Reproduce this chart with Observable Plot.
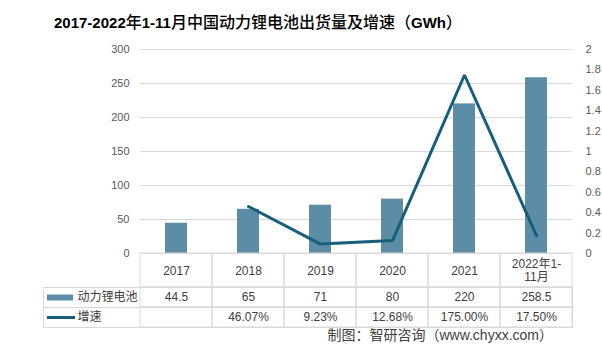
<!DOCTYPE html>
<html><head><meta charset="utf-8">
<script src="https://cdn.jsdelivr.net/npm/d3@7"></script>
<script src="https://cdn.jsdelivr.net/npm/@observablehq/plot@0.6"></script>
<style>
body{margin:0;background:#fff;}
#wrap{position:relative;width:602px;height:359px;overflow:hidden;font-family:"Liberation Sans","Noto Sans CJK SC",sans-serif;background:#fff;}
#title{position:absolute;left:0;top:9px;width:516px;text-align:center;font-size:16px;color:#000;white-space:nowrap;font-family:"Noto Sans CJK SC",sans-serif;font-weight:500;}
#title b{font-family:"Liberation Sans",sans-serif;font-weight:bold;font-size:15px;}
.layer{position:absolute;left:0;}
.layer svg{overflow:visible;}
#footer{position:absolute;right:49px;top:324px;font-size:14px;color:#404040;white-space:nowrap;}
</style></head><body>
<div id="wrap">
<div id="title"><b>2017-2022</b>年<b>1-11</b>月中国动力锂电池出货量及增速（<b>GWh</b>）</div>
<div id="main" class="layer" style="top:0"></div>
<div id="cats" class="layer" style="top:253px"></div>
<div id="rows" class="layer" style="top:287px"></div>
<div id="footer">制图：智研咨询（www.chyxx.com）</div>
</div>
<script>
// ---- data ----
const categories = ["2017", "2018", "2019", "2020", "2021", "2022年1-11月"];
const categoryLabels = ["2017", "2018", "2019", "2020", "2021", "2022年1-\n11月"];
const shipments = [44.5, 65, 71, 80, 220, 258.5];
const growth = [null, 0.4607, 0.0923, 0.1268, 1.75, 0.175];
const seriesNames = ["动力锂电池", "增速"];
const leftTicks = [0, 50, 100, 150, 200, 250, 300];
const rightTicks = [0, 0.2, 0.4, 0.6, 0.8, 1, 1.2, 1.4, 1.6, 1.8, 2];

// ---- styles ----
const barColor = "#5b8ea6";
const lineColor = "#175e7b";
const gridColor = "#d9d9d9";
const font = "'Liberation Sans','Noto Sans CJK SC',sans-serif";
const W = 602, ML = 140, MR = 30;
const leftMax = 300, rightMax = 2, k = leftMax / rightMax;

const data = categories.map((c, i) => ({cat: c, v: shipments[i], g: growth[i]}));
const rows = ["bar", "line"];

const main = Plot.plot({
  width: W, height: 260,
  marginTop: 49, marginBottom: 7, marginLeft: ML, marginRight: MR,
  style: {fontFamily: font, fontSize: "11px", color: "#595959", background: "transparent"},
  x: {type: "band", domain: categories, paddingInner: 0.69, paddingOuter: 0.345, axis: null},
  y: {domain: [0, leftMax]},
  marks: [
    Plot.ruleY(leftTicks, {stroke: gridColor, strokeWidth: 1}),
    Plot.barY(data, {x: "cat", y: "v", fill: barColor}),
    Plot.line(data.filter(d => d.g != null), {x: "cat", y: d => d.g * k, stroke: lineColor, strokeWidth: 3, strokeLinejoin: "miter", strokeLinecap: "round"}),
    Plot.axisY(leftTicks, {anchor: "left", tickSize: 0, tickPadding: 11, label: null, fill: "#595959"}),
    Plot.axisY(rightTicks.map(t => t * k), {anchor: "right", tickSize: 0, tickPadding: 13, label: null, fill: "#595959",
      tickFormat: v => String(+(v / k).toFixed(1))})
  ]
});
document.getElementById("main").append(main);

const cats = Plot.plot({
  width: W, height: 34,
  marginTop: 0, marginBottom: 0, marginLeft: ML, marginRight: MR,
  style: {fontFamily: font, fontSize: "12px", color: "#404040", background: "transparent"},
  x: {type: "band", domain: categories, padding: 0, axis: null},
  marks: [
    Plot.cell(categories, {x: d => d, fill: "none", stroke: gridColor}),
    Plot.text(categories, {x: d => d, text: (d, i) => categoryLabels[i], fill: "#404040", fontSize: 12, lineHeight: 1.1})
  ]
});
document.getElementById("cats").append(cats);

const grid = [];
for (const c of categories) for (const r of rows) grid.push({c, r});
const fmtPct = d3.format(".2%");
const frameW = W - ML - MR;

const table = Plot.plot({
  width: W, height: 40,
  marginTop: 0, marginBottom: 0, marginLeft: ML, marginRight: MR,
  style: {fontFamily: font, fontSize: "12px", color: "#404040", background: "transparent"},
  x: {type: "band", domain: categories, padding: 0, axis: null},
  y: {type: "band", domain: rows, padding: 0, axis: null},
  marks: [
    Plot.frame({stroke: gridColor, insetLeft: -97}),
    Plot.cell(grid, {x: "c", y: "r", fill: "none", stroke: gridColor}),
    Plot.ruleY(["line"], {y: d => d, dy: -10, insetLeft: -97, stroke: gridColor}),
    Plot.ruleY(["bar"], {y: d => d, insetLeft: -93, insetRight: frameW + 67, stroke: barColor, strokeWidth: 6}),
    Plot.ruleY(["line"], {y: d => d, insetLeft: -93, insetRight: frameW + 65, stroke: lineColor, strokeWidth: 3}),
    Plot.text(seriesNames, {y: (d, i) => rows[i], text: d => d, frameAnchor: "left", dx: -63, textAnchor: "start", fill: "#404040", fontSize: 12}),
    Plot.text(data, {x: "cat", y: () => "bar", text: d => String(d.v), fill: "#404040", fontSize: 12}),
    Plot.text(data.filter(d => d.g != null), {x: "cat", y: () => "line", text: d => fmtPct(d.g), fill: "#404040", fontSize: 12})
  ]
});
document.getElementById("rows").append(table);
</script>
</body></html>
